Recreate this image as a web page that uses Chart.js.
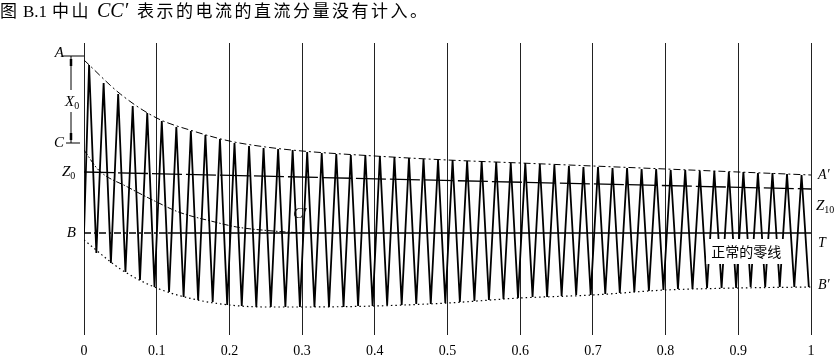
<!DOCTYPE html>
<html>
<head>
<meta charset="utf-8">
<script src="https://cdn.jsdelivr.net/npm/chart.js@4.4.1/dist/chart.umd.min.js"></script>
<style>
html,body{margin:0;padding:0;background:#fff;}
#wrap{width:836px;height:356px;position:relative;}
</style>
</head>
<body>
<div id="wrap"><canvas id="c" width="836" height="356"></canvas></div>
<script>
// ---- data ----
const tickLabels = ['0','0.1','0.2','0.3','0.4','0.5','0.6','0.7','0.8','0.9','1'];

const peakT = [0.007,0.027,0.047,0.067,0.087,0.107,0.127,0.147,0.167,0.187,0.207,0.227,0.247,0.267,0.287,0.307,0.327,0.347,0.367,0.387,0.407,0.427,0.447,0.467,0.487,0.507,0.527,0.547,0.567,0.587,0.607,0.627,0.647,0.667,0.687,0.707,0.727,0.747,0.767,0.787,0.807,0.827,0.847,0.867,0.887,0.907,0.927,0.947,0.967,0.987];
const peakY = [168,150,139,127,120,112,106,102,98,94,90,87,85,84,83,81,80,79,78,78,77,76,75,74,73,73,72,72,71,70,70,69,68,67,66,66,65,65,64,64,63,63,62,62,61,61,60,60,59,58];

const troughT = [0.017,0.037,0.057,0.077,0.097,0.117,0.137,0.157,0.177,0.197,0.217,0.237,0.257,0.277,0.297,0.317,0.337,0.357,0.377,0.397,0.417,0.437,0.457,0.477,0.497,0.517,0.537,0.557,0.577,0.597,0.617,0.637,0.657,0.677,0.697,0.717,0.737,0.757,0.777,0.797,0.817,0.837,0.857,0.877,0.897,0.917,0.937,0.957,0.977,0.997];
const troughY = [-20,-30,-39,-47,-54,-59,-64,-67,-69,-72,-73,-74,-74,-74,-74,-74,-74,-74,-73,-73,-72,-72,-71,-71,-70,-69,-68,-67,-66,-65,-64,-64,-63,-62,-62,-61,-60,-59,-58,-57,-56,-56,-55,-55,-55,-54,-54,-54,-54,-54];

const waveStartT = 0, waveStartY = 0;

const envT     = [0,0.05,0.1,0.15,0.2,0.25,0.3,0.4,0.5,0.6,0.7,0.8,0.9,1];
const upperEnv = [173,139,115,102,92,86,82,77,73,70,67,64,61,58];
const lowerEnv = [-7,-36,-55,-66,-72,-74,-74,-73,-70,-65,-62,-57,-55,-54];

const ccT = [0,0.02,0.06,0.1,0.13,0.18,0.21,0.26,0.3];
const ccY = [83,63,46,31,21,11,6,2,0];

const zT = [0,1];
const zY = [61,44];

const zeroT = [0,0.115,1];
const zeroY = [0,0,0];

// annotation levels (in data units)
const levelA = 177, levelX0 = 131, levelC = 90, levelZ0 = 61, levelB = 0;
const levelA2 = 58, levelZ10 = 27, levelT = -10, levelB2 = -52;
const cPrimeT = 0.297, cPrimeY = 19;
const noteT = 0.911, noteY = -19;

const titleParts = ['图', 'B.1', '中山', 'CC′', '表示的电流的直流分量没有计入。'];

// ---- build tables ----
const wave = [{x: waveStartT, y: waveStartY}];
for (let i = 0; i < peakT.length; i++) {
  wave.push({x: peakT[i], y: peakY[i]});
  wave.push({x: troughT[i], y: troughY[i]});
}
const pts = (xs, ys) => xs.map((x, i) => ({x, y: ys[i]}));

const SERIF_I = '"Liberation Serif", "DejaVu Serif", serif';
const CJK = '"Noto Sans CJK SC", sans-serif';

const annot = {
  id: 'annot',
  afterDatasetsDraw(chart) {
    const ctx = chart.ctx, xs = chart.scales.x, ys = chart.scales.y;
    const x0 = xs.getPixelForValue(0), x1 = xs.getPixelForValue(1);
    const py = v => ys.getPixelForValue(v);
    ctx.save();
    ctx.fillStyle = '#000';
    ctx.strokeStyle = '#000';

    // title (each CJK char on a 20px pitch)
    ctx.textBaseline = 'alphabetic';
    const cjkRun = (s, x) => {
      ctx.font = '17px ' + CJK;
      [...s].forEach((ch, i) => ctx.fillText(ch, x + i * 19.5, 17));
    };
    cjkRun(titleParts[0], 0);
    ctx.font = '17px ' + SERIF_I;
    ctx.fillText(titleParts[1], 23, 17);
    cjkRun(titleParts[2], 52);
    ctx.font = 'italic 20px ' + SERIF_I;
    ctx.fillText(titleParts[3], 97, 17);
    cjkRun(titleParts[4], 137);

    // dimension line A-C (X0)
    const dx = x0 - 13;
    const yA = py(levelA), yC = py(levelC), yX = py(levelX0);
    ctx.lineWidth = 1;
    ctx.beginPath();
    ctx.moveTo(x0 - 22, yA); ctx.lineTo(x0, yA);
    ctx.moveTo(x0 - 18, yC); ctx.lineTo(x0 - 4, yC);
    ctx.moveTo(dx, yA); ctx.lineTo(dx, yX - 12);
    ctx.moveTo(dx, yX + 10); ctx.lineTo(dx, yC);
    ctx.stroke();
    ctx.lineWidth = 2.5;
    ctx.beginPath();
    ctx.moveTo(dx, yA + 3); ctx.lineTo(dx, yA + 10);
    ctx.moveTo(dx, yC - 10); ctx.lineTo(dx, yC - 3);
    ctx.stroke();

    // left labels
    ctx.textBaseline = 'middle';
    ctx.textAlign = 'right';
    ctx.font = 'italic 15px ' + SERIF_I;
    ctx.fillText('A', x0 - 20, yA - 3);
    ctx.fillText('C', x0 - 20, yC);
    ctx.fillText('B', x0 - 8, py(levelB));
    const sub = (t, s, x, y, big, small) => {
      ctx.textAlign = 'left';
      ctx.font = 'italic ' + big + 'px ' + SERIF_I;
      ctx.fillText(t, x, y);
      const w = ctx.measureText(t).width;
      ctx.font = small + 'px ' + SERIF_I;
      ctx.fillText(s, x + w, y + 4);
    };
    sub('X', '0', dx - 6, yX, 15, 10);
    sub('Z', '0', x0 - 22, py(levelZ0), 15, 10);

    // right labels
    const rx = x1 + 7;
    ctx.textAlign = 'left';
    ctx.font = 'italic 14px ' + SERIF_I;
    ctx.fillText('A′', rx, py(levelA2));
    sub('Z', '10', rx - 2, py(levelZ10), 15, 10);
    ctx.font = 'italic 14px ' + SERIF_I;
    ctx.fillText('T', rx, py(levelT));
    ctx.fillText('B′', rx, py(levelB2));

    // C' label
    ctx.font = 'italic 15px ' + SERIF_I;
    ctx.textAlign = 'center';
    ctx.fillText('C′', xs.getPixelForValue(cPrimeT), py(cPrimeY));

    // note label with white box
    const nx = xs.getPixelForValue(noteT), ny = py(noteY);
    ctx.fillStyle = '#fff';
    ctx.fillRect(nx - 40, ny - 13, 80, 25);
    ctx.fillStyle = '#000';
    ctx.font = '14px ' + CJK;
    ctx.textAlign = 'center';
    ctx.fillText('正常的零线', nx, ny);
    ctx.restore();
  }
};

const lineDs = (data, opts) => Object.assign({
  data, borderColor: '#000', borderWidth: 1, pointRadius: 0, fill: false, tension: 0
}, opts);

new Chart(document.getElementById('c'), {
  type: 'line',
  data: {
    datasets: [
      lineDs(pts(envT, upperEnv), {borderDash: [7, 3, 2, 3], cubicInterpolationMode: 'monotone', borderWidth: 1}),
      lineDs(pts(envT, lowerEnv), {borderDash: [1.5, 3], cubicInterpolationMode: 'monotone', borderWidth: 1.2}),
      lineDs(pts(ccT, ccY), {borderDash: [6, 2, 1.5, 2], cubicInterpolationMode: 'monotone', borderWidth: 1}),
      lineDs(pts(zT, zY), {borderDash: [30, 4], borderWidth: 1.3}),
      lineDs(pts(zeroT, zeroY), {borderWidth: 1.4, segment: {borderDash: c => c.p0DataIndex === 0 ? [7, 3, 2, 3] : undefined}}),
      lineDs(wave, {borderWidth: 1.8})
    ]
  },
  options: {
    responsive: false,
    animation: false,
    devicePixelRatio: 1,
    layout: {padding: {top: 43, left: 84, right: 25, bottom: 0}},
    plugins: {legend: {display: false}, tooltip: {enabled: false}, title: {display: false}},
    scales: {
      x: {
        type: 'linear', min: 0, max: 1,
        afterFit: s => { s.height = 21; },
        grid: {color: '#222', lineWidth: 1, drawTicks: false},
        border: {display: false},
        ticks: {
          stepSize: 0.1, padding: 8, color: '#000',
          font: {family: SERIF_I, size: 14},
          maxRotation: 0, autoSkip: false,
          callback: (v, i) => tickLabels[i]
        }
      },
      y: {min: -102, max: 190, display: false}
    }
  },
  plugins: [annot]
});
</script>
</body>
</html>
